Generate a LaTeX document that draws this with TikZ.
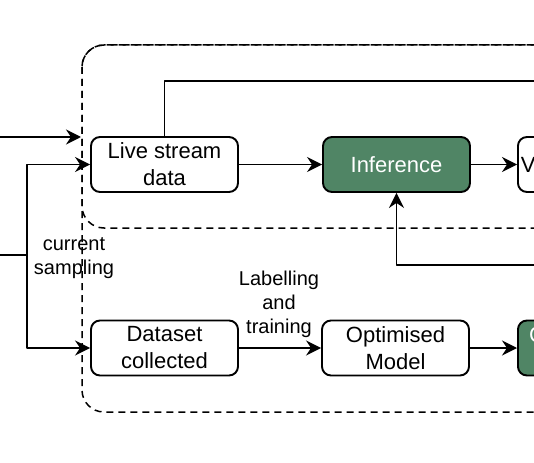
\documentclass[tikz,border=0pt]{standalone}
\usepackage{fontspec}
\setmainfont{Liberation Sans}
\usetikzlibrary{arrows.meta}
\definecolor{infgreen}{RGB}{80,133,101}

\begin{document}
\begin{tikzpicture}[x=1pt, y=-1pt, line join=round,
 >={Stealth[length=15pt,width=15pt,inset=5pt]},
 box/.style={draw, line width=1.9pt, rounded corners=9pt, fill=white, minimum width=147pt, minimum height=55pt, align=center, inner sep=2pt, font=\fontsize{22}{27}\selectfont},
 gbox/.style={box, fill=infgreen, text=white},
 lab/.style={align=center, font=\fontsize{20}{24}\selectfont},
 group/.style={dash pattern=on 7pt off 5pt, line width=1.5pt, rounded corners=22pt},
 link/.style={line width=1.9pt, ->}]
 % Frame
 \useasboundingbox (0,0) rectangle (534,462);
 \clip (0,0) rectangle (534,462);
 % Groups
 \draw[group] (82,45) rectangle (620,412);
 \draw[group] (82,45) rectangle (620,228);
 % Blocks
 \node[box] (live) at (164.5,164.5) {Live stream\\data};
 \node[gbox] (infer) at (396.5,164.5) {Inference};
 \node[box, anchor=west, text width=141pt, align=left, inner xsep=3pt] (vis) at (517,164.5) {Visualisation};
 \node[box] (data) at (164.5,348) {Dataset\\collected};
 \node[box] (model) at (395.5,348) {Optimised\\Model};
 \node[gbox, anchor=west] (cmp) at (517,348) {Compressed\\Model};
 % Labels
 \node[lab] (sampling) at (74,258) {current\\sampling};
 \node[lab] (train) at (279,304) {Labelling\\and\\training};
 % Free ends
 \coordinate (srcA) at (0,137);
 \coordinate (groupW) at (81,137);
 \coordinate (feedin) at (0,255);
 \coordinate (split) at (27,255);
 \coordinate (topend) at (600,81);
 \coordinate (fbend) at (600,265);
 % Connectors
 \draw[link] (srcA) -- (groupW);
 \draw[line width=1.9pt] (feedin) -- (split);
 \draw[link] (split) |- (live.west);
 \draw[link] (split) |- (data.west);
 \draw[line width=1.9pt] (live.north) |- (topend);
 \draw[link] (live) -- (infer);
 \draw[link] (infer) -- (vis);
 \draw[link] (fbend) -| (infer.south);
 \draw[link] (data) -- (model);
 \draw[link] (model) -- (cmp);
\end{tikzpicture}
\end{document}
